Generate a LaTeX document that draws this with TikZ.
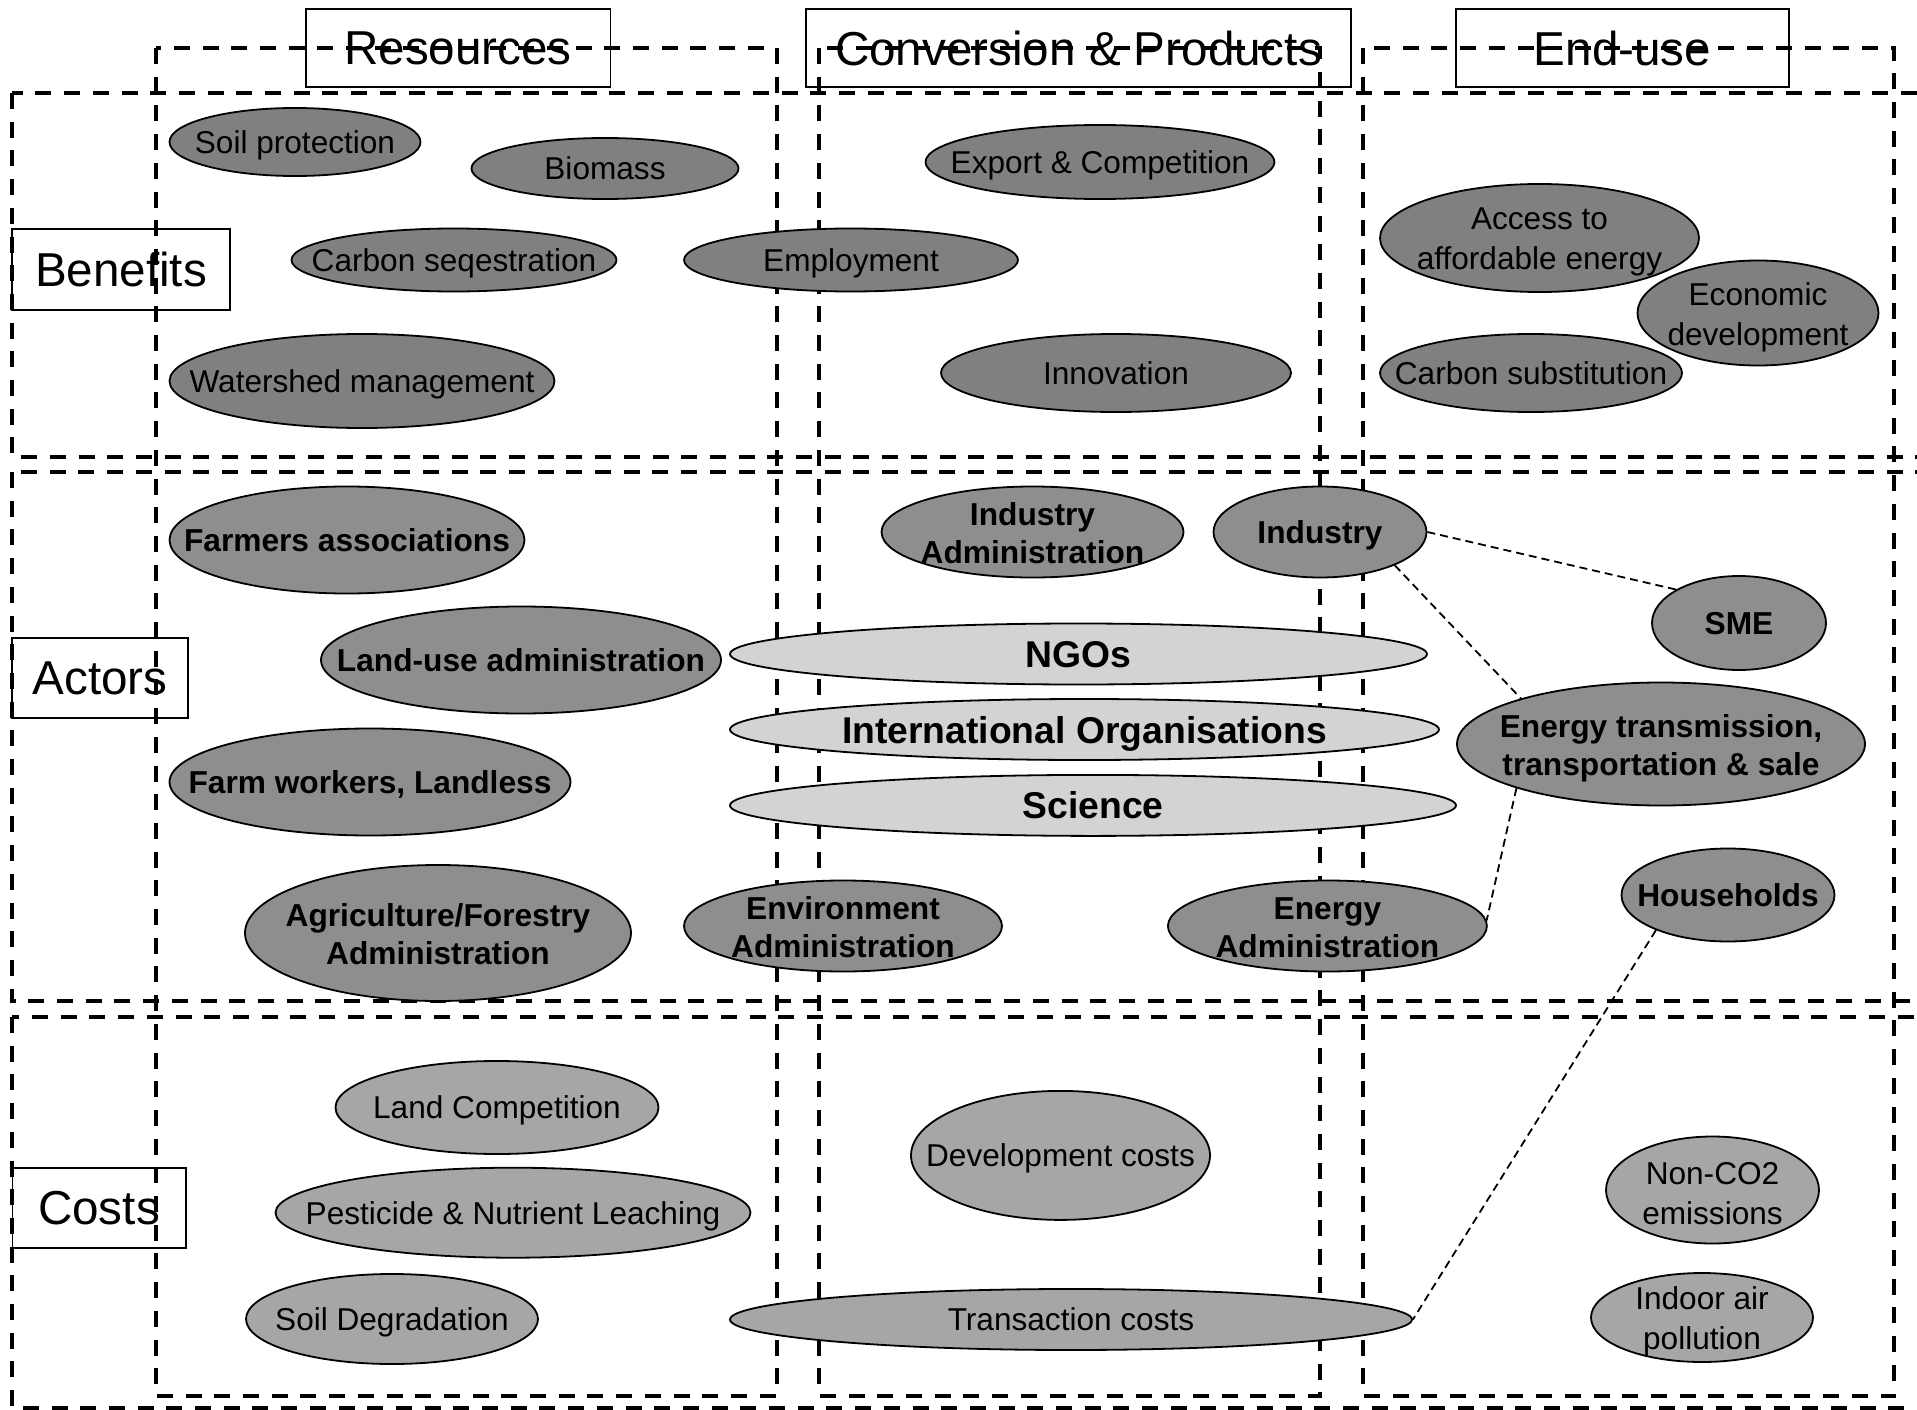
\documentclass[tikz,border=0pt]{standalone}
\usepackage{fontspec}
\setmainfont{Liberation Sans}
\usetikzlibrary{shapes.geometric}
\definecolor{benc}{HTML}{808080}
\definecolor{actc}{HTML}{8E8E8E}
\definecolor{cstc}{HTML}{A6A6A6}
\definecolor{litec}{HTML}{D3D3D3}
\newcommand\myreg{\fontsize{31.6}{40}\selectfont}
\newcommand\mybold{\fontsize{31.7}{38}\selectfont\bfseries}
\newcommand\mybig{\fontsize{37.3}{44}\selectfont\bfseries}
\newcommand\myhead{\fontsize{47.6}{56}\selectfont}
\tikzset{
  band/.style={draw, line width=4pt, dash pattern=on 16pt off 12.7pt},
  link/.style={draw, line width=1.8pt, dash pattern=on 8pt off 5pt},
  hbox/.style={draw, line width=1.5pt, inner sep=0pt, font=\myhead},
  sz/.style n args={2}{minimum width=#1pt, minimum height=#2pt},
  ov/.style={ellipse, draw, line width=1.8pt, inner sep=0pt},
  ben/.style={ov, fill=benc},
  act/.style={ov, fill=actc},
  cst/.style={ov, fill=cstc},
  lite/.style={ov, fill=litec},
  treg/.style={font=\myreg, align=center, inner sep=0pt},
  tbold/.style={font=\mybold, align=center, inner sep=0pt},
  tbig/.style={font=\mybig, align=center, inner sep=0pt},
  lr/.style={label={[treg, text depth=0pt]center:{#1}}},
  lrr/.style={label={[treg, yshift=-4pt]center:{#1}}},
  lb/.style={label={[tbold, text depth=0pt]center:{#1}}},
  lbb/.style={label={[tbold, yshift=-1.5pt]center:{#1}}},
  lg/.style={label={[tbig, text depth=0pt]center:{#1}}}
}
\begin{document}
\begin{tikzpicture}[x=1pt,y=-1pt]
\useasboundingbox (0,0) rectangle (1917,1410);
\clip (0,0) rectangle (1917,1410);
\fill[white] (0,0) rectangle (1917,1410);

% heading and row label boxes
\node[hbox, sz={304.5}{78}] (hres) at (458,48) {Resources};
\node[hbox, sz={545}{78}] (hconv) at (1078.5,48) {Conversion \& Products};
\node[hbox, sz={333}{78}] (hend) at (1622.5,48) {End-use};
\node[hbox, sz={218}{81}] (hben) at (121,269.5) {Benefits};
\node[hbox, sz={176}{80}] (hact) at (100,678) {Actors};
\node[hbox, sz={173.5}{80}] (hcst) at (99,1208) {Costs};

% dashed rows and columns
\draw[band] (12,93) rectangle (1935,457);
\draw[band] (12,472) rectangle (1935,1001);
\draw[band] (12,1017) rectangle (1935,1408);
\draw[band] (156,48) rectangle (776.5,1396);
\draw[band] (819,48) rectangle (1320,1396);
\draw[band] (1363,48) rectangle (1894,1396);

% benefits
\node[ben, sz={251}{68}, lr={Soil protection}] (soil) at (295,142) {};
\node[ben, sz={267}{61}, lr={Biomass}] (biomass) at (605,168.5) {};
\node[ben, sz={325}{63}, lr={Carbon seqestration}] (carbon) at (454,260) {};
\node[ben, sz={334}{63}, lr={Employment}] (employ) at (851,260) {};
\node[ben, sz={385}{94}, lr={Watershed management}] (water) at (362,381) {};
\node[ben, sz={349}{74}, lr={Export \& Competition}] (export) at (1100,162) {};
\node[ben, sz={350}{78}, lr={Innovation}] (innov) at (1116,373) {};
\node[ben, sz={319}{108}, lrr={Access to\\affordable energy}] (access) at (1539.5,238) {};
\node[ben, sz={241}{105}, lrr={Economic\\development}] (econ) at (1758,313) {};
\node[ben, sz={302}{78}, lr={Carbon substitution}] (csub) at (1531,373) {};

% actors
\node[act, sz={355}{107}, lb={Farmers associations}] (farmers) at (347,540) {};
\node[act, sz={400}{107}, lb={Land-use administration}] (landuse) at (521,660) {};
\node[act, sz={401}{107}, lb={Farm workers, Landless}] (farmw) at (370,782) {};
\node[act, sz={386}{136}, lbb={Agriculture/Forestry\\Administration}] (agri) at (438,933) {};
\node[act, sz={318}{91}, lbb={Environment\\Administration}] (env) at (843,926) {};
\node[act, sz={302}{91}, lbb={Industry\\Administration}] (indadm) at (1032.5,532) {};
\node[act, sz={213}{91}, lb={Industry}] (ind) at (1320,532) {};
\node[lite, sz={697}{61}, lg={NGOs}] (ngo) at (1078.5,654) {};
\node[lite, sz={709}{61}, lg={International Organisations}] (io) at (1084.5,729.5) {};
\node[lite, sz={726}{61}, lg={Science}] (sci) at (1093,805.4) {};
\node[act, sz={319}{91}, lbb={Energy\\Administration}] (enadm) at (1327.4,926) {};
\node[act, sz={174}{94}, lb={SME}] (sme) at (1739,623) {};
\node[act, sz={408}{123}, label={[tbold, yshift=-4pt]center:{Energy transmission,\\transportation \& sale}}] (etrans) at (1661,744) {};
\node[act, sz={213}{93}, lb={Households}] (house) at (1728,895) {};

% costs
\node[cst, sz={323}{93}, lr={Land Competition}] (landc) at (497,1107.5) {};
\node[cst, sz={475}{90}, lr={Pesticide \& Nutrient Leaching}] (pest) at (513,1212.7) {};
\node[cst, sz={292}{90}, lr={Soil Degradation}] (soild) at (392,1319) {};
\node[cst, sz={299}{129}, lr={Development costs}] (devc) at (1060.5,1155.4) {};
\node[cst, sz={682}{61}, lr={Transaction costs}] (trans) at (1071,1319.5) {};
\node[cst, sz={213}{107}, lrr={Non-CO2\\emissions}] (nonco) at (1712.5,1190) {};
\node[cst, sz={222}{89}, lrr={Indoor air\\pollution}] (indoor) at (1702,1317.5) {};

% connectors
\draw[link] (ind.east) -- (sme.152);
\draw[link] (ind.-24) -- (etrans.162);
\draw[link] (etrans.-163) -- (enadm.2);
\draw[link] (house.-154) -- (trans.east);
\end{tikzpicture}
\end{document}
